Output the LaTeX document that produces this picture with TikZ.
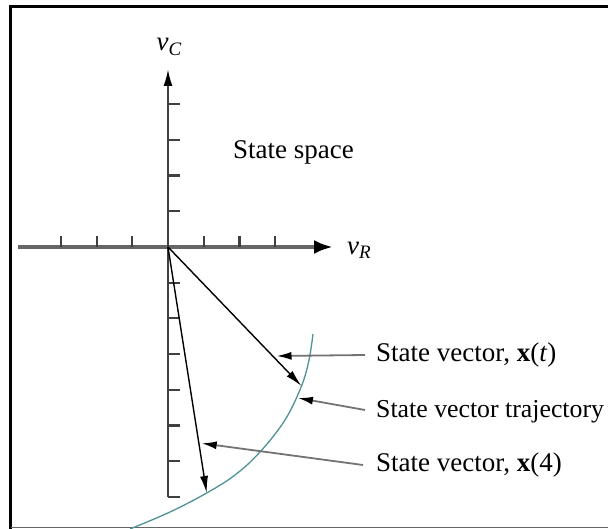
\documentclass[tikz,border=0pt]{standalone}
\usepackage{fontspec}
\setmainfont{Liberation Serif}
\usetikzlibrary{arrows.meta}
\begin{document}
\begin{tikzpicture}[x=1pt,y=-1pt,
  lbl/.style={font=\fontsize{27}{31}\selectfont, inner sep=0pt, anchor=west},
  axlbl/.style={font=\fontsize{27}{31}\selectfont, inner sep=0pt},
  vec/.style={line width=1.4pt, black, -{Latex[length=17pt,width=8pt]}},
  pointer/.style={line width=1.8pt, black!55, -{Latex[length=15pt,width=8pt,color=black]}},
  tick/.style={line width=2.2pt, black!75},
  traj/.style={line width=1.3pt, color={rgb,255:red,80;green,145;blue,150}}]
\useasboundingbox (0,0) rectangle (608,529);
% frame
\draw[line width=3.5pt, black] (10.5,529) -- (10.5,6.5) -- (608,6.5);
\draw[line width=1pt, black!60] (10.5,527.5) -- (608,527.5);
% origin and points
\coordinate (O) at (168,247);
\coordinate (xl) at (18,247);
\coordinate (xr) at (333,247);
\coordinate (yb) at (168,497);
\coordinate (yt) at (168,69);
\coordinate (xt) at (301.5,386);
\coordinate (x4) at (206.7,493);
\coordinate (pt1) at (276.5,356);
\coordinate (pt2) at (298,398);
\coordinate (pt3) at (201.7,443.3);
% axes
\draw[line width=4pt, black!60, -{Latex[length=19pt,width=14pt,color=black]}] (xl) -- (xr);
\draw[line width=2pt, black!75, -{Latex[length=17pt,width=9pt,color=black]}] (yb) -- (yt);
% ticks
\foreach \x in {60.9,96.6,132.3,203.7,239.4,275.1} \draw[tick] (\x,247) -- (\x,236);
\foreach \y in {104.2,139.9,175.6,211.3,282.7,318.4,354.1,389.8,425.5,461.2,497} \draw[tick] (168,\y) -- (180,\y);
% axis labels
\node[axlbl] (vc) at (169,47) {\itshape v\raisebox{-0.35ex}{\fontsize{19}{19}\selectfont C}};
\node[axlbl] (vr) at (359,250) {\itshape v\raisebox{-0.35ex}{\fontsize{19}{19}\selectfont R}};
\node[lbl] (ss) at (233,152) {State space};
% trajectory
\draw[traj] plot[smooth, tension=0.6] coordinates {(313,334) (309,360) (301.5,386) (285,420) (260,452) (235,475) (206.7,493) (170,512) (130,529)};
% vectors
\draw[vec] (O) -- (xt);
\draw[vec] (O) -- (x4);
% labels
\node[lbl] (l1) at (376,355) {State vector, \textbf{x}(\textit{t})};
\node[lbl, font=\fontsize{25.8}{30}\selectfont] (l2) at (376,412) {State vector trajectory};
\node[lbl] (l3) at (376,465) {State vector, \textbf{x}(4)};
\coordinate (s1) at (365,355);
\coordinate (s2) at (365,410);
\coordinate (s3) at (363,465);
\draw[pointer] (s1) -- (pt1);
\draw[pointer] (s2) -- (pt2);
\draw[pointer] (s3) -- (pt3);
\end{tikzpicture}
\end{document}
